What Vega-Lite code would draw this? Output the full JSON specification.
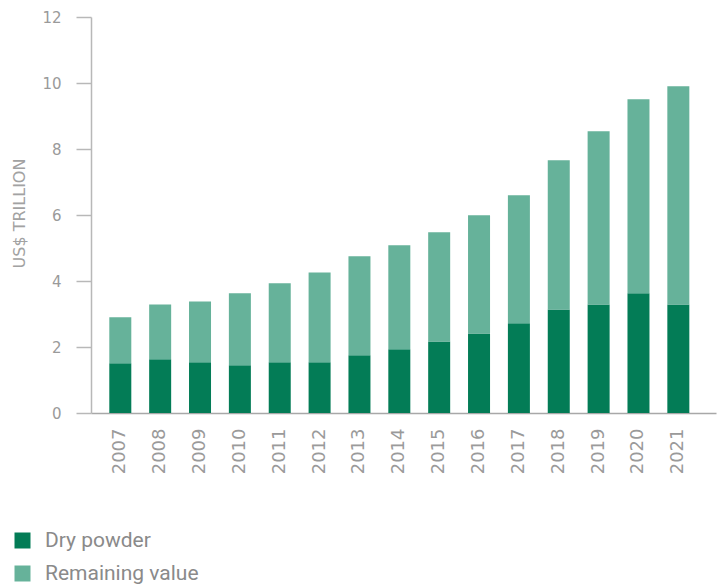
{
  "$schema": "https://vega.github.io/schema/vega-lite/v6.json",
  "width": 625,
  "height": 396,
  "autosize": {"type": "none"},
  "padding": {"left": 91, "top": 17, "right": 2, "bottom": 173},
  "background": "white",
  "data": {
    "values": [
      {"year": "2007", "type": "Dry powder", "value": 1.51},
      {"year": "2007", "type": "Remaining value", "value": 1.39},
      {"year": "2008", "type": "Dry powder", "value": 1.63},
      {"year": "2008", "type": "Remaining value", "value": 1.66},
      {"year": "2009", "type": "Dry powder", "value": 1.54},
      {"year": "2009", "type": "Remaining value", "value": 1.84},
      {"year": "2010", "type": "Dry powder", "value": 1.45},
      {"year": "2010", "type": "Remaining value", "value": 2.18},
      {"year": "2011", "type": "Dry powder", "value": 1.54},
      {"year": "2011", "type": "Remaining value", "value": 2.39},
      {"year": "2012", "type": "Dry powder", "value": 1.54},
      {"year": "2012", "type": "Remaining value", "value": 2.72},
      {"year": "2013", "type": "Dry powder", "value": 1.75},
      {"year": "2013", "type": "Remaining value", "value": 3.0},
      {"year": "2014", "type": "Dry powder", "value": 1.93},
      {"year": "2014", "type": "Remaining value", "value": 3.15},
      {"year": "2015", "type": "Dry powder", "value": 2.17},
      {"year": "2015", "type": "Remaining value", "value": 3.31},
      {"year": "2016", "type": "Dry powder", "value": 2.41},
      {"year": "2016", "type": "Remaining value", "value": 3.58},
      {"year": "2017", "type": "Dry powder", "value": 2.72},
      {"year": "2017", "type": "Remaining value", "value": 3.88},
      {"year": "2018", "type": "Dry powder", "value": 3.14},
      {"year": "2018", "type": "Remaining value", "value": 4.52},
      {"year": "2019", "type": "Dry powder", "value": 3.29},
      {"year": "2019", "type": "Remaining value", "value": 5.25},
      {"year": "2020", "type": "Dry powder", "value": 3.63},
      {"year": "2020", "type": "Remaining value", "value": 5.88},
      {"year": "2021", "type": "Dry powder", "value": 3.29},
      {"year": "2021", "type": "Remaining value", "value": 6.61}
    ]
  },
  "mark": {"type": "bar"},
  "encoding": {
    "x": {
      "field": "year",
      "type": "ordinal",
      "scale": {"paddingInner": 0.448, "paddingOuter": 0.564, "align": 0.407},
      "axis": {
        "title": null,
        "ticks": false,
        "labelAngle": 270,
        "labelAlign": "right",
        "labelBaseline": "middle",
        "labelPadding": 15,
        "labelFont": "DejaVu Sans",
        "labelFontSize": 18,
        "labelColor": "#9a9a9a",
        "domainColor": "#a8a8a8",
        "domainWidth": 1.5
      }
    },
    "y": {
      "field": "value",
      "type": "quantitative",
      "stack": "zero",
      "scale": {"domain": [0, 12], "nice": false},
      "axis": {
        "title": "US$ TRILLION",
        "titleFont": "DejaVu Sans",
        "titleFontSize": 16,
        "titleFontWeight": "normal",
        "titleColor": "#a2a2a2",
        "titleX": -64,
        "titleY": 196,
        "titleAngle": 270,
        "titleBaseline": "bottom",
        "titleAlign": "center",
        "values": [0, 2, 4, 6, 8, 10, 12],
        "grid": false,
        "tickSize": 15,
        "tickColor": "#b8b8b8",
        "tickWidth": 1.5,
        "domainColor": "#b8b8b8",
        "domainWidth": 1.5,
        "labelPadding": 15,
        "labelFont": "DejaVu Sans",
        "labelFontSize": 15,
        "labelColor": "#9a9a9a"
      }
    },
    "color": {
      "field": "type",
      "type": "nominal",
      "sort": ["Dry powder", "Remaining value"],
      "scale": {"domain": ["Dry powder", "Remaining value"], "range": ["#037c56", "#66b29a"]},
      "legend": {
        "title": null,
        "orient": "none",
        "legendX": -79,
        "legendY": 513,
        "direction": "vertical",
        "symbolType": "square",
        "symbolSize": 256,
        "symbolStrokeWidth": 0,
        "labelFont": "Roboto",
        "labelFontSize": 21,
        "labelColor": "#8a8a8a",
        "labelOffset": 12,
        "rowPadding": 11
      }
    },
    "order": {"field": "type", "sort": "ascending"}
  },
  "config": {"view": {"stroke": null}}
}
